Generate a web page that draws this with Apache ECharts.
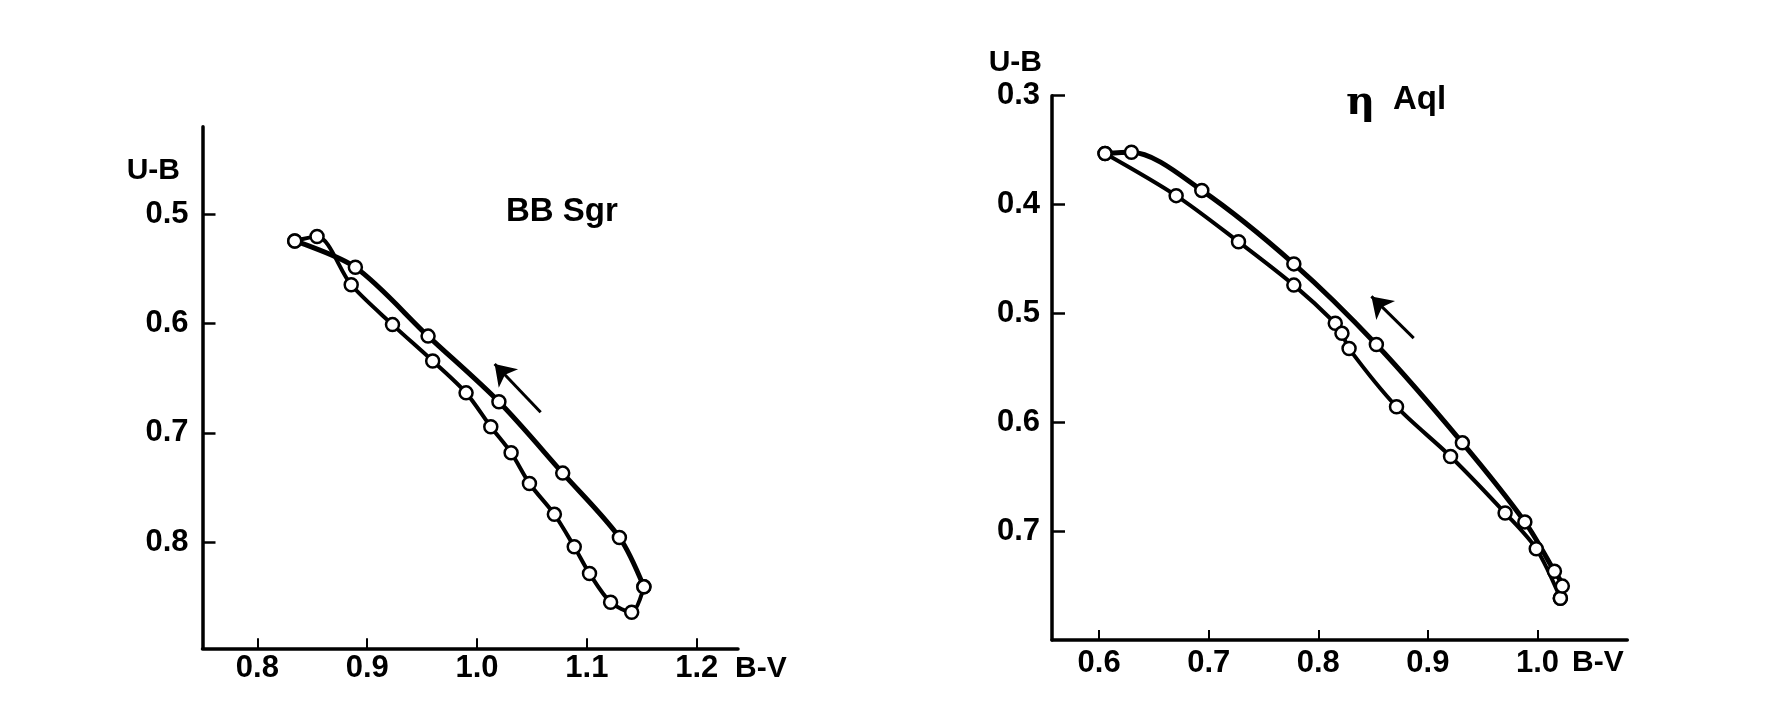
<!DOCTYPE html>
<html>
<head>
<meta charset="utf-8">
<script src="https://cdn.jsdelivr.net/npm/echarts@6/dist/echarts.min.js"></script>
<style>
html,body{margin:0;padding:0;background:#fff;}
#chart{width:1766px;height:710px;}
</style>
</head>
<body>
<div id="chart"></div>
<script>
// ---- Data: BB Sgr (B-V, U-B) ----
const bbSgrLower = [
  [0.834, 0.5245], [0.8543, 0.5204], [0.8854, 0.5646], [0.923, 0.601],
  [0.9596, 0.6342], [0.990, 0.6634], [1.0125, 0.6944], [1.031, 0.7181],
  [1.0477, 0.7463], [1.0704, 0.7745], [1.0885, 0.8041], [1.1024, 0.8286],
  [1.1216, 0.8549], [1.1408, 0.8641], [1.1519, 0.8408]
];
const bbSgrUpper = [
  [1.1519, 0.8408], [1.1296, 0.7956], [1.078, 0.7368], [1.0199, 0.6716],
  [0.9554, 0.6115], [0.8892, 0.5486], [0.834, 0.5245]
];
const bbSgrArrow = [[1.0579, 0.6812], [1.016, 0.637]];

// ---- Data: eta Aql (B-V, U-B) ----
const etaAqlLower = [
  [0.6054, 0.3531], [0.6703, 0.3918], [0.7272, 0.4342], [0.7777, 0.474],
  [0.8155, 0.509], [0.8216, 0.5183], [0.8281, 0.5323], [0.8714, 0.5857],
  [0.9207, 0.6314], [0.9705, 0.6834], [0.9989, 0.7162], [1.0209, 0.7616]
];
const etaAqlUpper = [
  [1.0209, 0.7616], [1.0227, 0.7505], [1.0155, 0.7369], [0.9885, 0.6915],
  [0.9315, 0.6189], [0.853, 0.5286], [0.7777, 0.4545], [0.6937, 0.387],
  [0.6295, 0.352], [0.6054, 0.3531]
];
const etaAqlArrow = [[0.8871, 0.5227], [0.8485, 0.4844]];

// ---- Tick values ----
const bbSgrXTicks = [0.8, 0.9, 1.0, 1.1, 1.2];
const bbSgrYTicks = [0.5, 0.6, 0.7, 0.8];
const etaAqlXTicks = [0.6, 0.7, 0.8, 0.9, 1.0];
const etaAqlYTicks = [0.3, 0.4, 0.5, 0.6, 0.7];

const FONT = '"Liberation Sans", Arial, sans-serif';
const chart = echarts.init(document.getElementById('chart'), null, {renderer: 'canvas'});

function xAxisCfg(idx, min, max, ticks, margin) {
  return {
    type: 'value', gridIndex: idx, min: min, max: max, position: 'bottom',
    axisLine: {onZero: false, lineStyle: {color: '#000', width: 3.5}},
    axisTick: {inside: true, length: 10, customValues: ticks, lineStyle: {color: '#000', width: 2}},
    axisLabel: {customValues: ticks, margin: margin, color: '#000', fontSize: 31, fontWeight: 'bold', fontFamily: FONT,
      formatter: v => v.toFixed(1)},
    splitLine: {show: false}
  };
}
function yAxisCfg(idx, min, max, ticks, margin) {
  return {
    type: 'value', gridIndex: idx, min: min, max: max, inverse: true,
    axisLine: {onZero: false, lineStyle: {color: '#000', width: 3.5}},
    axisTick: {inside: true, length: 13, customValues: ticks, lineStyle: {color: '#000', width: 2.5}},
    axisLabel: {customValues: ticks, margin: margin, color: '#000', fontSize: 31, fontWeight: 'bold', fontFamily: FONT,
      formatter: v => v.toFixed(1)},
    splitLine: {show: false}
  };
}
function branch(data, idx, width) {
  return {
    type: 'line', xAxisIndex: idx, yAxisIndex: idx, data: data,
    smooth: 0.3, symbol: 'circle', symbolSize: 13,
    lineStyle: {color: '#000', width: width},
    itemStyle: {color: '#fff', borderColor: '#000', borderWidth: 2.5},
    z: 3, animation: false
  };
}
function arrow(coords, idx) {
  return {
    type: 'lines', coordinateSystem: 'cartesian2d', xAxisIndex: idx, yAxisIndex: idx,
    data: [{coords: coords}], symbol: ['none', 'arrow'], symbolSize: [12, 20],
    lineStyle: {color: '#000', width: 3, opacity: 1, curveness: 0},
    animation: false
  };
}

const option = {
  backgroundColor: '#fff',
  animation: false,
  grid: [
    {left: 202.5, top: 126.7, width: 535.5, height: 521.6},
    {left: 1052, top: 95.7, width: 575.3, height: 544.3}
  ],
  xAxis: [
    xAxisCfg(0, 0.75, 1.2376, bbSgrXTicks, 5),
    xAxisCfg(1, 0.557, 1.082, etaAqlXTicks, 8)
  ],
  yAxis: [
    yAxisCfg(0, 0.42, 0.897, bbSgrYTicks, 14),
    yAxisCfg(1, 0.3, 0.8, etaAqlYTicks, 12)
  ],
  series: [
    branch(bbSgrLower, 0, 4),
    branch(bbSgrUpper, 0, 5),
    arrow(bbSgrArrow, 0),
    branch(etaAqlLower, 1, 4),
    branch(etaAqlUpper, 1, 5),
    arrow(etaAqlArrow, 1)
  ],
  graphic: [
    {type: 'text', x: 180, y: 171, style: {text: 'U-B', font: 'bold 30px ' + FONT, fill: '#000', textAlign: 'right', textVerticalAlign: 'middle'}},
    {type: 'text', x: 1042, y: 63, style: {text: 'U-B', font: 'bold 30px ' + FONT, fill: '#000', textAlign: 'right', textVerticalAlign: 'middle'}},
    {type: 'text', x: 735, y: 669, style: {text: 'B-V', font: 'bold 30px ' + FONT, fill: '#000', textAlign: 'left', textVerticalAlign: 'middle'}},
    {type: 'text', x: 1572, y: 663, style: {text: 'B-V', font: 'bold 30px ' + FONT, fill: '#000', textAlign: 'left', textVerticalAlign: 'middle'}},
    {type: 'text', x: 506, y: 212, style: {text: 'BB Sgr', font: 'bold 33px ' + FONT, fill: '#000', textAlign: 'left', textVerticalAlign: 'middle'}},
    {type: 'text', x: 1346, y: 104, style: {text: 'η', font: 'bold 40px "DejaVu Serif", serif', fill: '#000', textAlign: 'left', textVerticalAlign: 'middle'}},
    {type: 'text', x: 1393, y: 100, style: {text: 'Aql', font: 'bold 33px ' + FONT, fill: '#000', textAlign: 'left', textVerticalAlign: 'middle'}}
  ]
};
chart.setOption(option);
</script>
</body>
</html>
